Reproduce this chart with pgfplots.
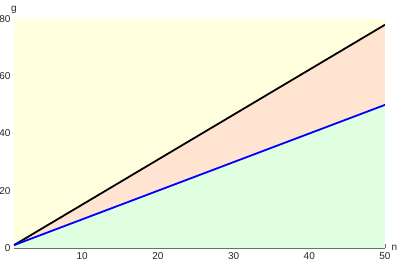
\documentclass[border=0pt]{standalone}
\usepackage{pgfplots}
\pgfplotsset{compat=1.18}
\usepackage{fontspec}
\setmainfont{Liberation Sans}
\definecolor{yel}{RGB}{255,255,221}
\definecolor{peach}{RGB}{255,228,210}
\definecolor{grn}{RGB}{224,255,224}
\definecolor{axg}{RGB}{110,110,110}
\begin{document}
\begin{tikzpicture}
\useasboundingbox (-14pt,-19pt) rectangle (386pt,248pt);
\begin{axis}[
  scale only axis, width=371pt, height=229pt,
  xmin=1, xmax=50, ymin=0, ymax=80,
  axis lines=left,
  axis line style={axg, -},
  xtick={10,20,30,40,50}, ytick={0,20,40,60,80},
  minor xtick={2,4,...,48}, minor ytick={5,10,...,75},
  tick style={axg},
  major tick length=4pt, minor tick length=2pt,
  tick align=inside,
  ticklabel style={font=\fontsize{10}{12}\selectfont, text=black!85},
  xticklabel style={yshift=-1pt},
  /pgf/number format/assume math mode=true,
  xlabel={n}, ylabel={g},
  every axis x label/.style={at={(axis description cs:1,0)}, anchor=west, xshift=3pt, font=\fontsize{10}{12}\selectfont, text=black!85},
  every axis y label/.style={at={(axis description cs:0,1)}, anchor=south, yshift=2pt, font=\fontsize{10}{12}\selectfont, text=black!85},
  clip=true,
]
\addplot[draw=none, fill=yel] coordinates {(1,1) (1,80) (50,80) (50,78)} -- cycle;
\addplot[draw=none, fill=peach] coordinates {(1,1) (50,78) (50,50)} -- cycle;
\addplot[draw=none, fill=grn] coordinates {(1,0) (1,1) (50,50) (50,0)} -- cycle;
\addplot[black, line width=1.8pt] coordinates {(1,1) (50,78)};
\addplot[blue, line width=1.8pt] coordinates {(1,1) (50,50)};
\end{axis}
\end{tikzpicture}
\end{document}
